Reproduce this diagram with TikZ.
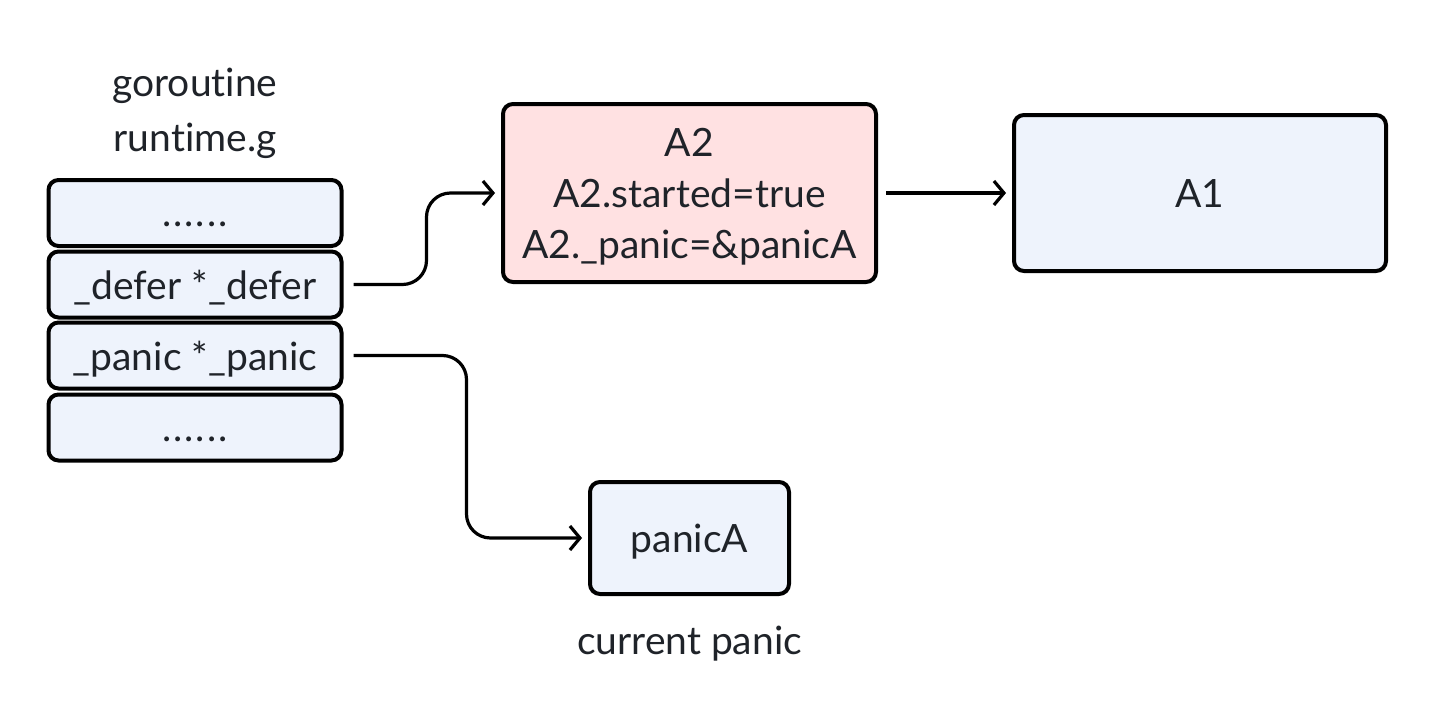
\documentclass[tikz,border=0pt]{standalone}
\usepackage{fontspec}
\setmainfont{Lato}[Ligatures={NoCommon}]
\usetikzlibrary{arrows.meta,calc}
\definecolor{boxblue}{HTML}{EEF3FC}
\definecolor{boxpink}{HTML}{FFE1E2}
\definecolor{txt}{HTML}{1F2329}
\tikzset{
  cell/.style={draw=black, line width=2pt, rounded corners=5pt, fill=boxblue, inner sep=0pt, text=txt, text depth=0pt, font=\fontsize{19.5}{24}\selectfont},
  pinkcell/.style={cell, fill=boxpink},
  lbl/.style={text=txt, font=\fontsize{19.5}{24}\selectfont, inner sep=0pt, text depth=0pt},
  conn/.style={draw=black, line width=1.6pt, rounded corners=12pt, -{Straight Barb[length=5pt,width=12pt,line width=1.6pt]}}
}
\begin{document}
\begin{tikzpicture}[x=0.5pt,y=-0.5pt]
\useasboundingbox (0,0) rectangle (1436,712);
% left stack
\node[lbl] (gor) at (195,82) {goroutine};
\node[lbl] (rtg) at (195,137) {runtime.g};
\node[cell, minimum width=146.5pt, minimum height=33pt] (s1) at (195,213) {\vphantom{A}.\kern1pt.\kern1pt.\kern1pt.\kern1pt.\kern1pt.};
\node[cell, minimum width=146.5pt, minimum height=33pt] (s2) at (195,284.5) {\_defer *\_defer};
\node[cell, minimum width=146.5pt, minimum height=33pt] (s3) at (195,355.5) {\_panic *\_panic};
\node[cell, minimum width=146.5pt, minimum height=33pt] (s4) at (195,427.5) {\vphantom{A}.\kern1pt.\kern1pt.\kern1pt.\kern1pt.\kern1pt.};
% A2
\node[pinkcell, minimum width=186.5pt, minimum height=89pt, align=center] (a2) at (689.5,193)
  {A2\\[1.5pt]A2.started=true\\[1.5pt]A2.\_panic=\&panicA};
% A1
\node[cell, minimum width=186pt, minimum height=78pt] (a1) at (1200,193) {A1};
% panicA
\node[cell, minimum width=99.5pt, minimum height=56pt] (pa) at (689.5,538) {panicA};
\node[lbl] (cur) at (689.5,640) {current panic};
% connectors
\draw[conn] ($(s2.east)+(10,0)$) -- ++(73,0) |- ($(a2.west)+(-6,0)$);
\draw[conn] ($(a2.east)+(8,0)$) -- ($(a1.west)+(-6,0)$);
\draw[conn] ($(s3.east)+(10,0)$) -- ++(113,0) |- ($(pa.west)+(-6,0)$);
\end{tikzpicture}
\end{document}
